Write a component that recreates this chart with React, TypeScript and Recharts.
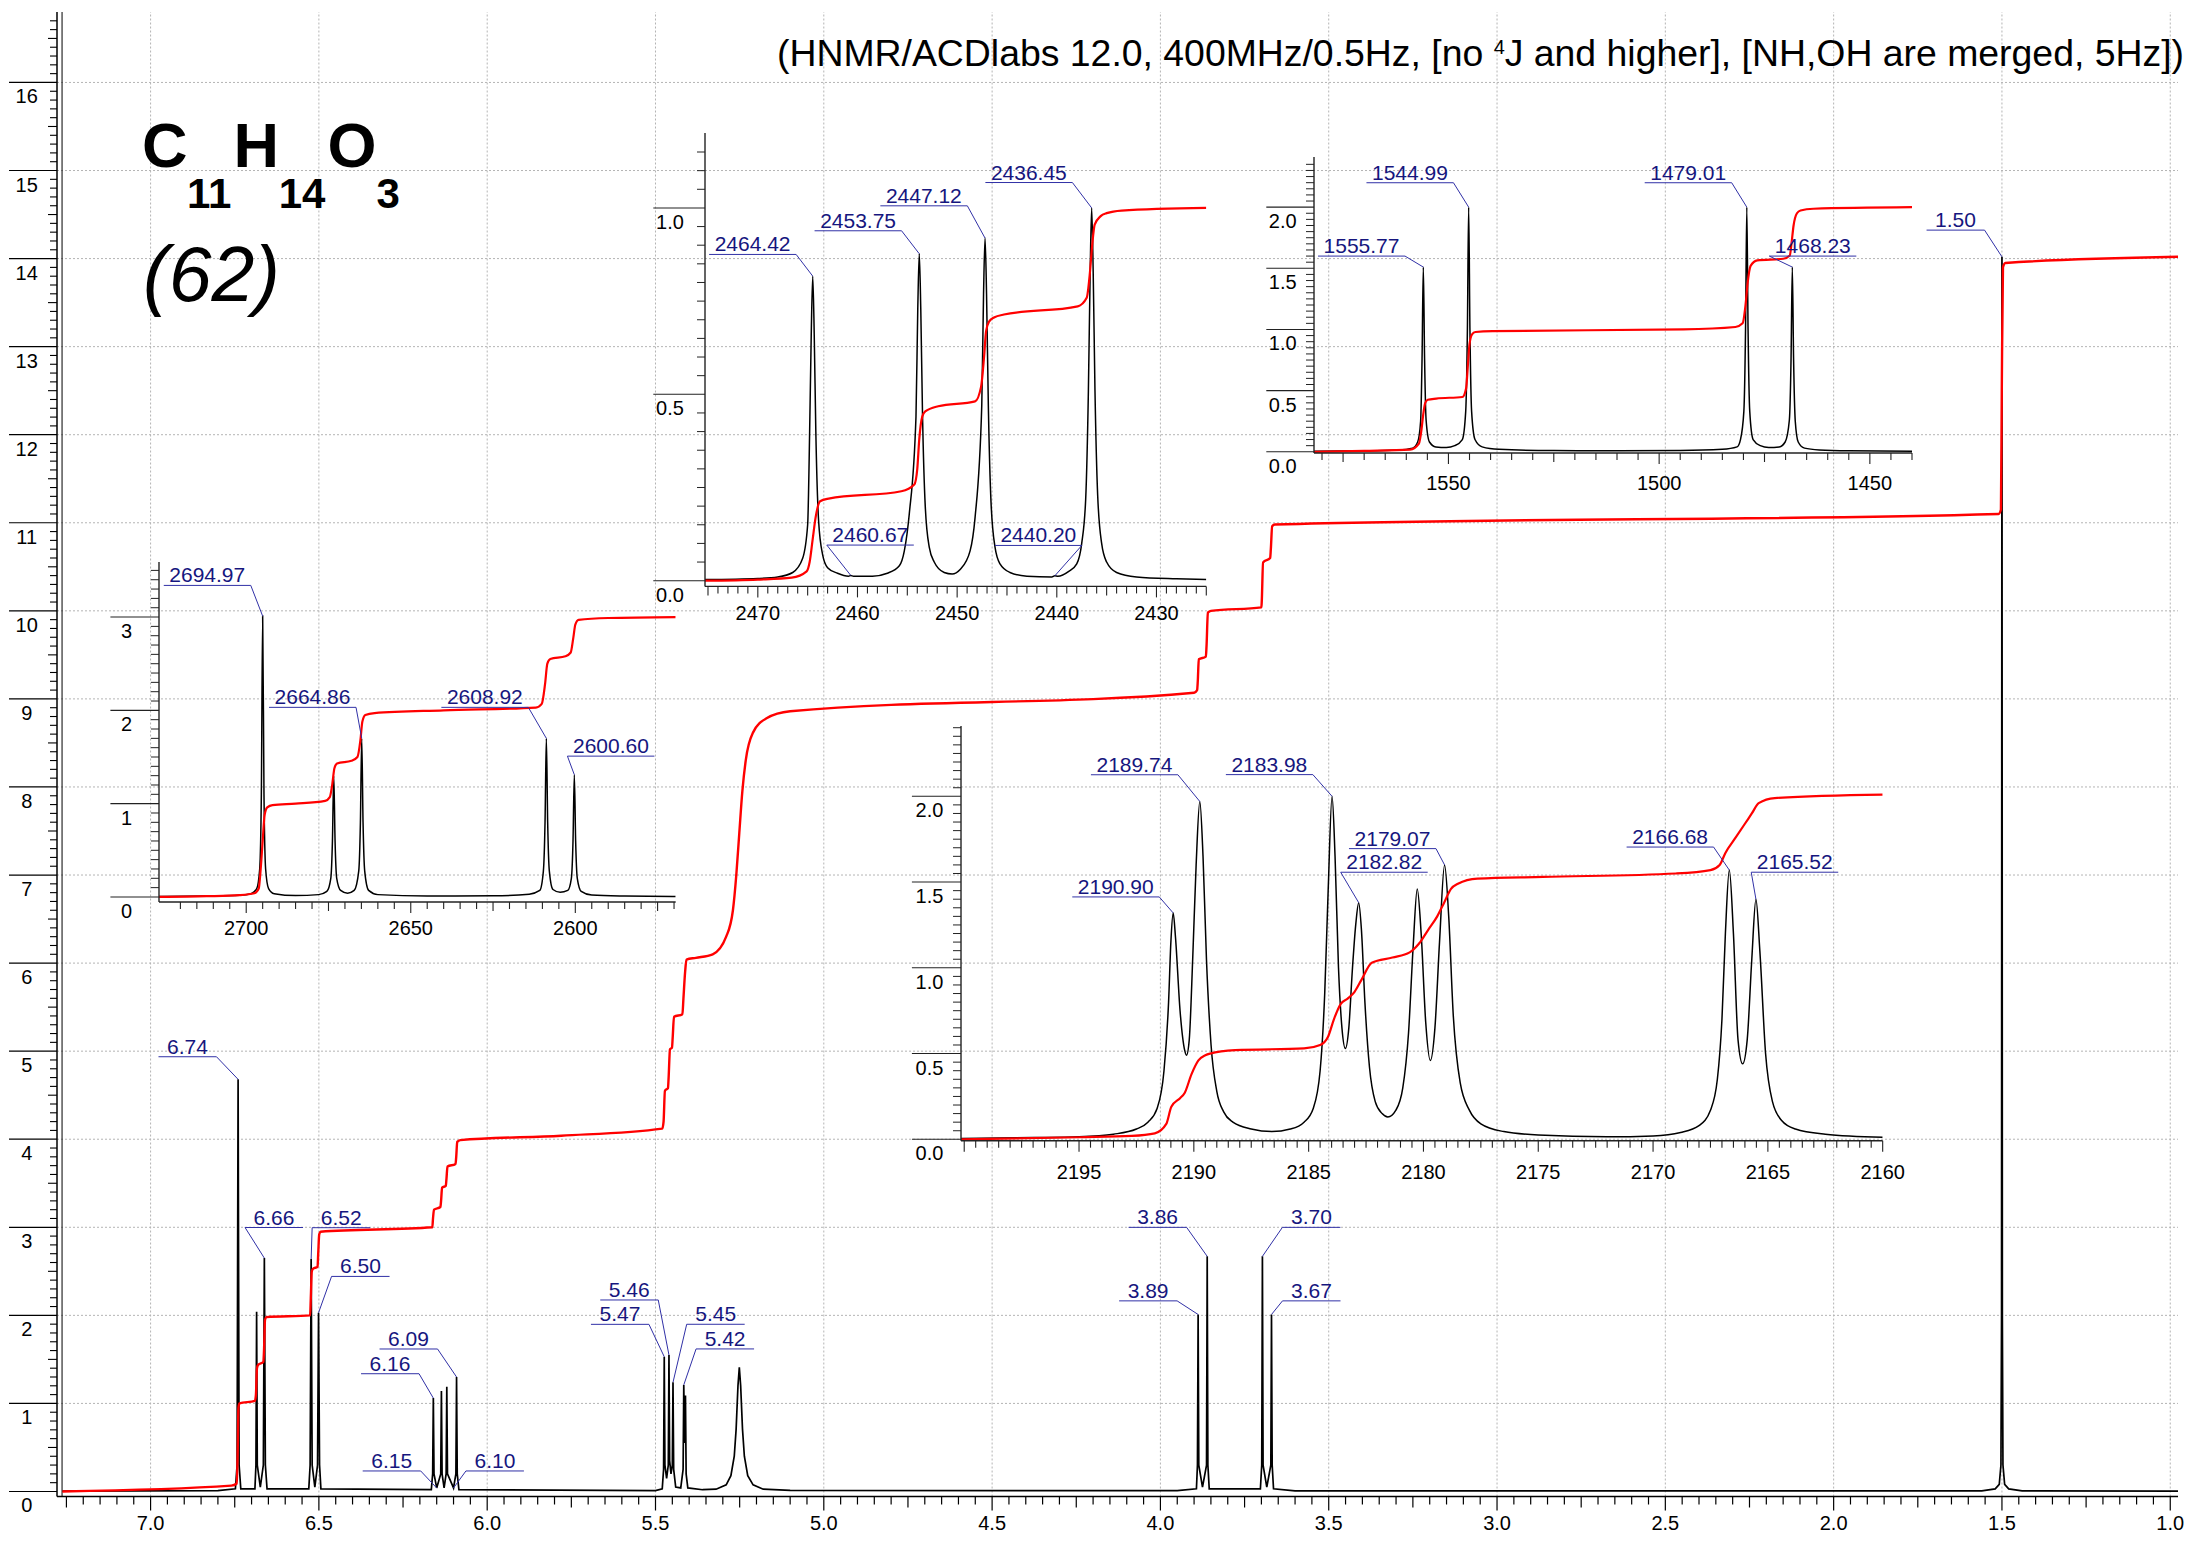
import React from 'react';
import { ComposedChart, Line, XAxis, YAxis, Scatter, ReferenceLine } from 'recharts';

type Pt = [number, number];
type Side = 'L' | 'R';
type Lay = [number, number, Side];
type PeakLabel = { text: string; pos: number; h: number };

const FONT = '"Liberation Sans", Arial, Helvetica, sans-serif';
const LABEL_TEXT = '#16167e';
const LABEL_LINE = '#3030a6';
const GRID = '#b4b4b4';

// ---------------- MAIN SPECTRUM (ppm, intensity) ----------------
const mainSpectrum: Pt[] = [
  [7.262, 0.005], [6.8, 0.01], [6.748, 0.03], [6.743, 0.3], [6.74, 4.68], [6.737, 0.3], [6.732, 0.03],
  [6.69, 0.03], [6.687, 0.3], [6.685, 2.04], [6.683, 0.3], [6.674, 0.05], [6.665, 0.3], [6.662, 2.65], [6.659, 0.3], [6.654, 0.03],
  [6.53, 0.03], [6.526, 0.3], [6.523, 2.64], [6.52, 0.3], [6.512, 0.05], [6.504, 0.3], [6.501, 2.03], [6.498, 0.3], [6.494, 0.03],
  [6.166, 0.02], [6.162, 0.2], [6.16, 1.06], [6.158, 0.2], [6.15, 0.04], [6.138, 0.2], [6.136, 1.14], [6.134, 0.2], [6.128, 0.04],
  [6.122, 0.2], [6.12, 1.19], [6.118, 0.2], [6.1, 0.04], [6.093, 0.2], [6.091, 1.3], [6.089, 0.2], [6.084, 0.02],
  [5.5, 0.01], [5.48, 0.03], [5.476, 0.25], [5.474, 1.53], [5.472, 0.3], [5.467, 0.15], [5.462, 0.3], [5.46, 1.55], [5.458, 0.35],
  [5.454, 0.2], [5.45, 0.3], [5.448, 1.24], [5.446, 0.25], [5.44, 0.05], [5.425, 0.04], [5.418, 0.25], [5.416, 1.21], [5.4135, 0.55],
  [5.411, 1.09], [5.409, 0.2], [5.404, 0.04], [5.36, 0.02],
  [5.32, 0.026], [5.29, 0.075], [5.276, 0.18], [5.266, 0.4], [5.2605, 0.705], [5.255, 1.2], [5.251, 1.41], [5.247, 1.2],
  [5.2415, 0.705], [5.236, 0.4], [5.226, 0.18], [5.21, 0.075], [5.18, 0.026], [5.1, 0.012],
  [3.95, 0.01], [3.893, 0.03], [3.89, 0.3], [3.888, 2.01], [3.886, 0.3], [3.875, 0.05], [3.863, 0.3], [3.861, 2.67], [3.859, 0.3], [3.855, 0.03],
  [3.703, 0.03], [3.699, 0.3], [3.697, 2.67], [3.695, 0.3], [3.684, 0.05], [3.672, 0.3], [3.67, 2.01], [3.668, 0.3], [3.664, 0.03],
  [3.6, 0.008], [1.56, 0.008], [1.52, 0.03], [1.508, 0.08], [1.503, 0.3], [1.5012, 2.0], [1.5, 14.02], [1.4988, 2.0], [1.497, 0.3],
  [1.492, 0.08], [1.48, 0.03], [1.44, 0.008], [0.977, 0.005],
];

const mainIntegral: Pt[] = [
  [7.262, 0.0], [6.76, 0.066], [6.744, 0.09], [6.741, 0.5], [6.739, 0.95], [6.736, 1.0], [6.69, 1.03], [6.687, 1.1], [6.684, 1.4],
  [6.68, 1.44], [6.665, 1.47], [6.663, 1.6], [6.66, 1.95], [6.656, 1.98], [6.526, 2.0], [6.524, 2.2], [6.521, 2.5], [6.517, 2.53],
  [6.504, 2.55], [6.502, 2.7], [6.499, 2.92], [6.495, 2.95], [6.163, 3.0], [6.161, 3.1], [6.158, 3.2], [6.139, 3.23], [6.137, 3.3],
  [6.134, 3.45], [6.123, 3.47], [6.121, 3.55], [6.118, 3.69], [6.094, 3.72], [6.092, 3.8], [6.089, 3.97], [6.08, 3.99],
  [5.78, 4.04], [5.48, 4.12], [5.476, 4.2], [5.472, 4.55], [5.463, 4.58], [5.461, 4.7], [5.457, 5.02], [5.451, 5.04], [5.449, 5.15],
  [5.445, 5.39], [5.42, 5.42], [5.417, 5.6], [5.412, 5.9], [5.408, 6.04], [5.38, 6.06], [5.33, 6.1], [5.29, 6.3], [5.27, 6.6],
  [5.26, 7.0], [5.251, 7.48], [5.242, 7.95], [5.232, 8.3], [5.21, 8.62], [5.17, 8.78], [5.1, 8.86], [3.9, 9.07], [3.891, 9.1],
  [3.889, 9.2], [3.886, 9.45], [3.865, 9.48], [3.863, 9.6], [3.859, 9.98], [3.85, 10.0], [3.7, 10.04], [3.699, 10.1], [3.695, 10.55],
  [3.674, 10.6], [3.672, 10.7], [3.668, 10.96], [3.66, 10.98], [1.51, 11.1], [1.503, 11.15], [1.5005, 12.5], [1.497, 13.9],
  [1.49, 13.95], [0.977, 14.02],
];

const mainLabels: PeakLabel[] = [
  { text: '6.74', pos: 6.74, h: 4.68 }, { text: '6.66', pos: 6.662, h: 2.65 }, { text: '6.52', pos: 6.523, h: 2.64 },
  { text: '6.50', pos: 6.501, h: 2.03 }, { text: '6.09', pos: 6.091, h: 1.3 }, { text: '6.16', pos: 6.16, h: 1.06 },
  { text: '6.15', pos: 6.15, h: 0.04 }, { text: '6.10', pos: 6.1, h: 0.04 }, { text: '5.46', pos: 5.46, h: 1.55 },
  { text: '5.47', pos: 5.474, h: 1.53 }, { text: '5.45', pos: 5.448, h: 1.24 }, { text: '5.42', pos: 5.416, h: 1.21 },
  { text: '3.86', pos: 3.861, h: 2.67 }, { text: '3.89', pos: 3.888, h: 2.01 }, { text: '3.70', pos: 3.697, h: 2.67 },
  { text: '3.67', pos: 3.67, h: 2.01 }, { text: '1.50', pos: 1.5, h: 14.02 },
];

// ---------------- INSET 1 (Hz) ----------------
const inset1Spectrum: Pt[] = [
  [2726.5, 0.005], [2712, 0.01], [2702, 0.018], [2698.5, 0.035], [2696.8, 0.09], [2695.9, 0.3], [2695.4, 1.1], [2695.0, 3.01],
  [2694.6, 1.1], [2694.1, 0.3], [2693.2, 0.09], [2691.5, 0.035], [2685, 0.015], [2678, 0.025], [2675.5, 0.06], [2674.3, 0.2],
  [2673.8, 0.6], [2673.4, 1.3], [2673.0, 0.6], [2672.5, 0.2], [2671.3, 0.07], [2669.2, 0.04], [2667.2, 0.07], [2665.8, 0.28],
  [2665.3, 0.8], [2664.9, 1.7], [2664.5, 0.8], [2664.0, 0.28], [2662.8, 0.07], [2660, 0.025], [2645, 0.01], [2625, 0.012],
  [2614, 0.03], [2610.8, 0.07], [2609.7, 0.28], [2609.2, 0.8], [2608.8, 1.7], [2608.4, 0.8], [2607.9, 0.28], [2606.8, 0.08],
  [2604.6, 0.05], [2602.3, 0.07], [2601.2, 0.2], [2600.7, 0.6], [2600.3, 1.31], [2599.9, 0.6], [2599.4, 0.2], [2598.2, 0.06],
  [2595, 0.02], [2585, 0.01], [2569.5, 0.005],
];
const inset1Integral: Pt[] = [
  [2726.5, 0.0], [2712, 0.008], [2702, 0.02], [2697.5, 0.04], [2696.2, 0.09], [2695.6, 0.3], [2695.0, 0.6], [2694.4, 0.88],
  [2693.6, 0.96], [2692, 0.985], [2685, 1.0], [2676, 1.03], [2674.6, 1.07], [2673.8, 1.22], [2673.2, 1.38], [2672.4, 1.43],
  [2668, 1.46], [2666.2, 1.5], [2665.3, 1.68], [2664.7, 1.88], [2663.8, 1.95], [2661, 1.97], [2640, 2.0], [2612, 2.03],
  [2610.2, 2.07], [2609.2, 2.28], [2608.5, 2.5], [2607.6, 2.55], [2603, 2.58], [2601.4, 2.62], [2600.6, 2.78], [2600.0, 2.92],
  [2599.0, 2.97], [2590, 2.99], [2569.5, 3.0],
];
const inset1Labels: PeakLabel[] = [
  { text: '2694.97', pos: 2695.0, h: 3.01 }, { text: '2664.86', pos: 2664.9, h: 1.7 },
  { text: '2608.92', pos: 2608.8, h: 1.7 }, { text: '2600.60', pos: 2600.3, h: 1.31 },
];

// ---------------- INSET 2 (Hz) ----------------
const inset2Spectrum: Pt[] = [
  [2475.3, 0.003], [2470, 0.006], [2468, 0.01], [2466.5, 0.022], [2465.5, 0.06], [2465.0, 0.15], [2464.8, 0.4], [2464.64, 0.66],
  [2464.49, 0.817], [2464.34, 0.66], [2464.18, 0.4], [2463.9, 0.16], [2463.5, 0.07], [2463.0, 0.035], [2462.0, 0.02],
  [2460.9, 0.012], [2460.67, 0.014], [2460.4, 0.012], [2458.5, 0.012], [2457.0, 0.02], [2455.8, 0.04], [2455.3, 0.08],
  [2454.8, 0.18], [2454.13, 0.44], [2453.95, 0.73], [2453.8, 0.877], [2453.65, 0.73], [2453.47, 0.44], [2453.2, 0.2],
  [2452.8, 0.09], [2452.3, 0.05], [2451.3, 0.022], [2450.5, 0.018], [2449.7, 0.03], [2448.7, 0.08], [2448.2, 0.17],
  [2447.53, 0.47], [2447.35, 0.77], [2447.2, 0.919], [2447.05, 0.77], [2446.87, 0.47], [2446.6, 0.21], [2446.2, 0.09],
  [2445.7, 0.045], [2444.7, 0.022], [2443.0, 0.012], [2440.5, 0.01], [2440.2, 0.013], [2439.9, 0.012], [2438.8, 0.025],
  [2438.0, 0.045], [2437.5, 0.1], [2437.1, 0.22], [2436.83, 0.51], [2436.65, 0.83], [2436.5, 1.0], [2436.35, 0.83],
  [2436.17, 0.51], [2435.9, 0.23], [2435.5, 0.1], [2435.0, 0.05], [2434.0, 0.022], [2432.0, 0.01], [2428.0, 0.005], [2425.0, 0.003],
];
const inset2Integral: Pt[] = [
  [2475.3, 0.0], [2470, 0.003], [2466.6, 0.008], [2465.1, 0.025], [2464.8, 0.05], [2464.5, 0.11], [2464.2, 0.17],
  [2463.75, 0.213], [2462.9, 0.22], [2455.6, 0.24], [2454.3, 0.258], [2454.0, 0.3], [2453.8, 0.38], [2453.5, 0.44],
  [2453.2, 0.454], [2451.9, 0.468], [2448.2, 0.481], [2447.6, 0.52], [2447.3, 0.6], [2447.1, 0.669], [2446.8, 0.695],
  [2446.3, 0.706], [2445.3, 0.714], [2437.9, 0.736], [2437.0, 0.759], [2436.7, 0.82], [2436.45, 0.9], [2436.2, 0.955],
  [2435.6, 0.978], [2435.0, 0.986], [2433.5, 0.993], [2425, 1.0],
];
const inset2Labels: PeakLabel[] = [
  { text: '2464.42', pos: 2464.49, h: 0.817 }, { text: '2453.75', pos: 2453.8, h: 0.877 },
  { text: '2447.12', pos: 2447.2, h: 0.919 }, { text: '2436.45', pos: 2436.5, h: 1.0 },
  { text: '2460.67', pos: 2460.67, h: 0.014 }, { text: '2440.20', pos: 2440.2, h: 0.013 },
];

// ---------------- INSET 3 (Hz) ----------------
const inset3Spectrum: Pt[] = [
  [1581.9, 0.005], [1570, 0.008], [1562, 0.015], [1558.5, 0.03], [1557.3, 0.08], [1556.6, 0.25], [1556.26, 0.76], [1555.96, 1.51],
  [1555.66, 0.76], [1555.3, 0.26], [1554.5, 0.08], [1553, 0.04], [1550.5, 0.035], [1548.5, 0.05], [1546.7, 0.1], [1545.9, 0.33],
  [1545.5, 1.0], [1545.2, 2.0], [1544.9, 1.0], [1544.5, 0.33], [1543.7, 0.1], [1542, 0.04], [1538, 0.02], [1525, 0.01],
  [1510, 0.008], [1495, 0.01], [1485, 0.02], [1481.5, 0.04], [1480.7, 0.1], [1479.9, 0.33], [1479.5, 1.0], [1479.2, 2.0],
  [1478.9, 1.0], [1478.5, 0.33], [1477.7, 0.1], [1476, 0.05], [1474, 0.035], [1471.5, 0.04], [1470.1, 0.08], [1469.1, 0.26],
  [1468.7, 0.76], [1468.4, 1.51], [1468.1, 0.76], [1467.7, 0.25], [1467, 0.08], [1465.5, 0.03], [1462, 0.015], [1455, 0.008],
  [1440, 0.005],
];
const inset3Integral: Pt[] = [
  [1581.9, 0.0], [1570, 0.008], [1559.1, 0.018], [1557.0, 0.067], [1556.4, 0.18], [1556.0, 0.3], [1555.5, 0.4], [1554.9, 0.425],
  [1552.9, 0.435], [1546.7, 0.448], [1545.8, 0.52], [1545.4, 0.7], [1545.0, 0.88], [1544.4, 0.96], [1543.6, 0.979],
  [1539.5, 0.987], [1494.2, 1.0], [1481.9, 1.02], [1480.2, 1.05], [1479.5, 1.2], [1479.0, 1.38], [1478.3, 1.52], [1476.7, 1.565],
  [1470.55, 1.578], [1469.0, 1.605], [1468.6, 1.7], [1468.1, 1.85], [1467.3, 1.95], [1466.45, 1.973], [1463.4, 1.987], [1440, 2.0],
];
const inset3Labels: PeakLabel[] = [
  { text: '1555.77', pos: 1555.96, h: 1.51 }, { text: '1544.99', pos: 1545.2, h: 2.0 },
  { text: '1479.01', pos: 1479.2, h: 2.0 }, { text: '1468.23', pos: 1468.4, h: 1.51 },
];

// ---------------- INSET 4 (Hz) ----------------
const inset4Spectrum: Pt[] = [
  [2200.14, 0.005], [2197, 0.01], [2195, 0.015], [2193.5, 0.03], [2192.5, 0.06], [2192, 0.1], [2191.6, 0.18], [2191.3, 0.4],
  [2191.1, 0.8], [2191.0, 1.15], [2190.9, 1.32], [2190.8, 1.18], [2190.6, 0.75], [2190.4, 0.52], [2190.32, 0.49], [2190.2, 0.58],
  [2190.05, 1.05], [2189.9, 1.6], [2189.74, 1.97], [2189.6, 1.65], [2189.45, 1.05], [2189.25, 0.55], [2189.0, 0.28],
  [2188.7, 0.16], [2188.3, 0.1], [2187.5, 0.06], [2186.6, 0.045], [2185.8, 0.06], [2185.2, 0.1], [2184.8, 0.18], [2184.5, 0.4],
  [2184.3, 0.85], [2184.15, 1.45], [2183.98, 2.0], [2183.85, 1.65], [2183.7, 1.0], [2183.55, 0.65], [2183.4, 0.53],
  [2183.25, 0.65], [2183.1, 0.98], [2182.95, 1.25], [2182.82, 1.38], [2182.7, 1.22], [2182.55, 0.8], [2182.35, 0.42],
  [2182.1, 0.22], [2181.8, 0.15], [2181.55, 0.13], [2181.2, 0.17], [2180.9, 0.3], [2180.65, 0.62], [2180.45, 1.12],
  [2180.27, 1.46], [2180.1, 1.2], [2179.9, 0.68], [2179.7, 0.46], [2179.5, 0.65], [2179.3, 1.15], [2179.08, 1.6],
  [2178.9, 1.3], [2178.7, 0.72], [2178.4, 0.33], [2178.0, 0.17], [2177.5, 0.09], [2176.5, 0.045], [2175, 0.025], [2172, 0.015],
  [2170, 0.02], [2168.8, 0.04], [2168, 0.08], [2167.5, 0.17], [2167.2, 0.35], [2167.0, 0.7], [2166.85, 1.2], [2166.68, 1.57],
  [2166.5, 1.2], [2166.3, 0.58], [2166.1, 0.44], [2165.9, 0.58], [2165.7, 1.05], [2165.52, 1.4], [2165.35, 1.1], [2165.1, 0.5],
  [2164.8, 0.22], [2164.4, 0.11], [2163.8, 0.06], [2162.5, 0.03], [2160, 0.012],
];
const inset4Integral: Pt[] = [
  [2200.14, 0.0], [2195, 0.012], [2192.7, 0.02], [2191.7, 0.035], [2191.2, 0.09], [2190.98, 0.19], [2190.6, 0.24], [2190.4, 0.27],
  [2190.1, 0.38], [2189.8, 0.46], [2189.5, 0.49], [2189.3, 0.5], [2188.2, 0.52], [2185.2, 0.53], [2184.5, 0.55], [2184.15, 0.6],
  [2183.9, 0.7], [2183.6, 0.79], [2183.3, 0.82], [2183.0, 0.86], [2182.7, 0.93], [2182.25, 1.03], [2181.35, 1.06], [2180.6, 1.09],
  [2180.2, 1.14], [2179.8, 1.22], [2179.4, 1.3], [2179.1, 1.38], [2178.8, 1.46], [2178.5, 1.49], [2177.65, 1.52], [2174.8, 1.53],
  [2169, 1.55], [2167.5, 1.57], [2167.1, 1.6], [2166.85, 1.67], [2166.4, 1.76], [2166.0, 1.84], [2165.7, 1.9], [2165.4, 1.96],
  [2164.7, 1.99], [2160, 2.01],
];
const inset4Labels: PeakLabel[] = [
  { text: '2190.90', pos: 2190.9, h: 1.32 }, { text: '2189.74', pos: 2189.74, h: 1.97 },
  { text: '2183.98', pos: 2183.98, h: 2.0 }, { text: '2179.07', pos: 2179.08, h: 1.6 },
  { text: '2182.82', pos: 2182.82, h: 1.38 }, { text: '2166.68', pos: 2166.68, h: 1.57 },
  { text: '2165.52', pos: 2165.52, h: 1.4 },
];

// ---------------- label layout (pixel offsets from peak point) ----------------
const mainLayout: Record<string, Lay> = {
  '6.74': [-21.6, -22.6, 'L'], '6.66': [-19.3, -30.6, 'R'], '6.52': [1, -31.3, 'R'], '6.50': [13, -36.3, 'R'],
  '6.09': [-19, -28, 'L'], '6.16': [-14.3, -24.4, 'L'], '6.15': [-16, -17, 'L'], '6.10': [12.4, -17, 'R'],
  '5.46': [-10.7, -55, 'L'], '5.47': [-15.3, -32.4, 'L'], '5.45': [13.7, -58, 'R'], '5.42': [12.3, -36, 'R'],
  '3.86': [-20.6, -29, 'L'], '3.89': [-21, -13.6, 'L'], '3.70': [20, -29, 'R'], '3.67': [11, -13.6, 'R'],
  '1.50': [-17.4, -26.7, 'L'],
};
const inset1Layout: Record<string, Lay> = {
  '2694.97': [-11.9, -30.7, 'L'], '2664.86': [-5.7, -31, 'L'], '2608.92': [-18, -31, 'L'], '2600.60': [-6.9, -18.6, 'R'],
};
const inset2Layout: Record<string, Lay> = {
  '2464.42': [-16.6, -21.7, 'L'], '2453.75': [-17.7, -23, 'L'], '2447.12': [-17.7, -32.3, 'L'],
  '2436.45': [-19.3, -25.4, 'L'], '2460.67': [-24, -30.4, 'R'], '2440.20': [27, -30.4, 'L'],
};
const inset3Layout: Record<string, Lay> = {
  '1555.77': [-18.3, -11, 'L'], '1544.99': [-15.2, -24.4, 'L'], '1479.01': [-15.1, -24.4, 'L'], '1468.23': [-23, -11, 'R'],
};
const inset4Layout: Record<string, Lay> = {
  '2190.90': [-13.9, -16, 'L'], '2189.74': [-21.9, -26.7, 'L'], '2183.98': [-19.2, -21.7, 'L'],
  '2179.07': [-8.6, -16.3, 'L'], '2182.82': [-18, -30.4, 'R'], '2166.68': [-15.7, -23, 'L'], '2165.52': [-4.7, -27, 'R'],
};

// ---------------- helpers ----------------
const range = (a: number, b: number, s: number) => {
  const out: number[] = [];
  const n = Math.round((b - a) / s);
  for (let i = 0; i <= n; i++) out.push(Math.round((a + i * s) * 1000) / 1000);
  return out;
};
const isMult = (v: number, s: number) => Math.abs(v / s - Math.round(v / s)) < 1e-6;
const toObj = (pts: Pt[]) => pts.map(([x, y]) => ({ x, y }));
const toLab = (ls: PeakLabel[]) => ls.map((l) => ({ x: l.pos, y: l.h, text: l.text }));

const makeLabelShape = (layout: Record<string, Lay>) => (props: any) => {
  const { cx, cy } = props;
  const d = props.payload ?? props;
  const lay = layout[d.text];
  if (!lay || cx == null || cy == null) return <g />;
  const [dx, dy, side] = lay;
  const ax = cx + dx;
  const ay = cy + dy;
  const w = d.text.length > 5 ? 87 : 58;
  const bx = side === 'L' ? ax - w : ax + w;
  return (
    <g>
      <line x1={cx} y1={cy} x2={ax} y2={ay} stroke={LABEL_LINE} strokeWidth={1} />
      <line x1={ax} y1={ay} x2={bx} y2={ay} stroke={LABEL_LINE} strokeWidth={1} />
      <text x={(ax + bx) / 2} y={ay - 3} textAnchor="middle" fontSize={21} fontFamily={FONT} fill={LABEL_TEXT}>
        {d.text}
      </text>
    </g>
  );
};

// ---------------- main axes ----------------
const MAIN_X_TICKS = range(1.0, 7.25, 0.05);
const MAIN_Y_TICKS = range(0, 16.7, 0.1);
const MAIN_GRID_X = range(1.0, 7.0, 0.5);
const MAIN_GRID_Y = range(1, 16, 1);

const renderMainXTick = (p: any) => {
  const { x, y, payload } = p;
  const v = payload.value as number;
  const major = isMult(v, 0.5);
  const mid = isMult(v, 0.25);
  const len = major ? 14 : mid ? 11 : 8;
  return (
    <g>
      <line x1={x} x2={x} y1={y} y2={y + len} stroke="#000" strokeWidth={1.2} />
      {major && (
        <text x={x} y={y + 33.5} textAnchor="middle" fontSize={20} fontFamily={FONT} fill="#000">
          {v.toFixed(1)}
        </text>
      )}
    </g>
  );
};
const renderMainYTick = (p: any) => {
  const { x, y, payload } = p;
  const v = payload.value as number;
  if (isMult(v, 1)) {
    return (
      <g>
        <line x1={x - 48} x2={x} y1={y} y2={y} stroke="#000" strokeWidth={1.2} />
        <text x={x - 30.3} y={y + 21} textAnchor="middle" fontSize={20} fontFamily={FONT} fill="#000">
          {v.toFixed(0)}
        </text>
      </g>
    );
  }
  const len = isMult(v, 0.5) ? 9 : 7;
  return <line x1={x - len} x2={x} y1={y} y2={y} stroke="#000" strokeWidth={1.1} />;
};

// ---------------- insets ----------------
type InsetCfg = {
  left: number; top: number; width: number; height: number;
  yW: number; xH: number; mTop: number; mRight: number;
  xDomain: [number, number]; yDomain: [number, number];
  xTicks: number[]; xLabelStep: number; xMidStep: number; xLabelDy: number; xDecimals: number; xNoLabel: number[];
  yTicks: number[]; yLabelStep: number; yDecimals: number; yLineLen: number; yLabelDx: number;
  spectrum: Pt[]; integral: Pt[]; labels: PeakLabel[]; layout: Record<string, Lay>;
};

const insets: InsetCfg[] = [
  {
    left: 107.3, top: 555.7, width: 574.7, height: 396, yW: 52, xH: 50, mTop: 6, mRight: 6,
    xDomain: [2569.5, 2726.5], yDomain: [-0.054, 3.59],
    xTicks: range(2570, 2720, 5), xLabelStep: 50, xMidStep: 25, xLabelDy: 33.5, xDecimals: 0, xNoLabel: [],
    yTicks: range(0, 3.5, 0.1), yLabelStep: 1, yDecimals: 0, yLineLen: 48.6, yLabelDx: 32.5,
    spectrum: inset1Spectrum, integral: inset1Integral, labels: inset1Labels, layout: inset1Layout,
  },
  {
    left: 649.7, top: 127.3, width: 562.3, height: 509.4, yW: 55, xH: 50, mTop: 6, mRight: 6,
    xDomain: [2425.0, 2475.3], yDomain: [-0.0153, 1.201],
    xTicks: range(2425, 2475, 1), xLabelStep: 10, xMidStep: 5, xLabelDy: 34, xDecimals: 0, xNoLabel: [],
    yTicks: range(0, 1.15, 0.05), yLabelStep: 0.5, yDecimals: 1, yLineLen: 51.7, yLabelDx: 35,
    spectrum: inset2Spectrum, integral: inset2Integral, labels: inset2Labels, layout: inset2Layout,
  },
  {
    left: 1262.2, top: 150.7, width: 656, height: 352, yW: 52, xH: 50, mTop: 6, mRight: 6,
    xDomain: [1440, 1581.9], yDomain: [-0.01, 2.41],
    xTicks: range(1440, 1580, 5), xLabelStep: 50, xMidStep: 25, xLabelDy: 37, xDecimals: 0, xNoLabel: [],
    yTicks: range(0, 2.35, 0.05), yLabelStep: 0.5, yDecimals: 1, yLineLen: 47.7, yLabelDx: 31.3,
    spectrum: inset3Spectrum, integral: inset3Integral, labels: inset3Labels, layout: inset3Layout,
  },
  {
    left: 908.9, top: 720, width: 1003.7, height: 470.7, yW: 52, xH: 50, mTop: 6, mRight: 30,
    xDomain: [2160, 2200.14], yDomain: [-0.008, 2.41],
    xTicks: range(2160, 2200, 0.5), xLabelStep: 5, xMidStep: 5, xLabelDy: 38, xDecimals: 0, xNoLabel: [2200],
    yTicks: range(0, 2.4, 0.05), yLabelStep: 0.5, yDecimals: 1, yLineLen: 49.1, yLabelDx: 31.5,
    spectrum: inset4Spectrum, integral: inset4Integral, labels: inset4Labels, layout: inset4Layout,
  },
];

const Inset = ({ cfg }: { cfg: InsetCfg }) => {
  const xTick = (p: any) => {
    const { x, y, payload } = p;
    const v = payload.value as number;
    const lab = isMult(v, cfg.xLabelStep);
    const mid = isMult(v, cfg.xMidStep);
    const len = lab ? 11 : mid ? 9 : 7;
    const showText = lab && !cfg.xNoLabel.includes(v);
    return (
      <g>
        <line x1={x} x2={x} y1={y} y2={y + len} stroke="#222" strokeWidth={1.1} />
        {showText && (
          <text x={x} y={y + cfg.xLabelDy} textAnchor="middle" fontSize={20} fontFamily={FONT} fill="#000">
            {v.toFixed(cfg.xDecimals)}
          </text>
        )}
      </g>
    );
  };
  const yTick = (p: any) => {
    const { x, y, payload } = p;
    const v = payload.value as number;
    if (isMult(v, cfg.yLabelStep)) {
      return (
        <g>
          <line x1={x - cfg.yLineLen} x2={x} y1={y} y2={y} stroke="#222" strokeWidth={1.1} />
          <text x={x - cfg.yLabelDx} y={y + 21} textAnchor="middle" fontSize={20} fontFamily={FONT} fill="#000">
            {v.toFixed(cfg.yDecimals)}
          </text>
        </g>
      );
    }
    return <line x1={x - 8} x2={x} y1={y} y2={y} stroke="#222" strokeWidth={1} />;
  };
  return (
    <div style={{ position: 'absolute', left: cfg.left, top: cfg.top }}>
      <ComposedChart
        width={cfg.width}
        height={cfg.height}
        margin={{ top: cfg.mTop, right: cfg.mRight, bottom: 0, left: 0 }}
      >
        <XAxis
          type="number" dataKey="x" domain={cfg.xDomain} reversed allowDataOverflow ticks={cfg.xTicks}
          interval={0} tickSize={0} tickMargin={0} tickLine={false} tick={xTick}
          axisLine={{ stroke: '#222', strokeWidth: 1.4 }} height={cfg.xH}
        />
        <YAxis
          type="number" domain={cfg.yDomain} allowDataOverflow ticks={cfg.yTicks} interval={0}
          tickSize={0} tickMargin={0} tickLine={false} tick={yTick}
          axisLine={{ stroke: '#222', strokeWidth: 1.4 }} width={cfg.yW}
        />
        <Line
          data={toObj(cfg.spectrum)} dataKey="y" type="monotone" stroke="#000" strokeWidth={1.5}
          dot={false} activeDot={false} isAnimationActive={false}
        />
        <Line
          data={toObj(cfg.integral)} dataKey="y" type="monotone" stroke="#ff0000" strokeWidth={2.2}
          dot={false} activeDot={false} isAnimationActive={false}
        />
        <Scatter data={toLab(cfg.labels)} dataKey="y" shape={makeLabelShape(cfg.layout)} isAnimationActive={false} />
      </ComposedChart>
    </div>
  );
};

export default function App() {
  return (
    <div style={{ position: 'absolute', left: 0, top: 0, width: 2190, height: 1543, overflow: 'hidden', background: '#fff' }}>
      <div style={{ position: 'absolute', left: 0, top: 0 }}>
        <ComposedChart width={2190} height={1543} margin={{ top: 12, right: 12, bottom: 0, left: 0 }}>
          <XAxis
            type="number" dataKey="x" domain={[0.977, 7.278]} reversed allowDataOverflow ticks={MAIN_X_TICKS}
            interval={0} tickSize={0} tickMargin={0} tickLine={false} tick={renderMainXTick}
            axisLine={{ stroke: '#000', strokeWidth: 1.5 }} height={46.5}
          />
          <YAxis
            type="number" domain={[-0.057, 16.8]} allowDataOverflow ticks={MAIN_Y_TICKS} interval={0}
            tickSize={0} tickMargin={0} tickLine={false} tick={renderMainYTick}
            axisLine={{ stroke: '#000', strokeWidth: 1.5 }} width={57}
          />
          {MAIN_GRID_X.map((v) => (
            <ReferenceLine key={'gx' + v} x={v} stroke={GRID} strokeDasharray="2 2" strokeWidth={1} />
          ))}
          {MAIN_GRID_Y.map((v) => (
            <ReferenceLine key={'gy' + v} y={v} stroke={GRID} strokeDasharray="2 2" strokeWidth={1} />
          ))}
          <ReferenceLine x={7.263} stroke="#000" strokeWidth={1} />
          <Line
            data={toObj(mainSpectrum)} dataKey="y" type="linear" stroke="#000" strokeWidth={1.7}
            dot={false} activeDot={false} isAnimationActive={false}
          />
          <Line
            data={toObj(mainIntegral)} dataKey="y" type="monotone" stroke="#ff0000" strokeWidth={2.4}
            dot={false} activeDot={false} isAnimationActive={false}
          />
          <Scatter data={toLab(mainLabels)} dataKey="y" shape={makeLabelShape(mainLayout)} isAnimationActive={false} />
        </ComposedChart>
      </div>

      <svg width={2190} height={1543} style={{ position: 'absolute', left: 0, top: 0, pointerEvents: 'none' }}>
        <text x={777} y={66} fontSize={37.5} fontFamily={FONT} fill="#000" textLength={1407} lengthAdjust="spacingAndGlyphs">
          (HNMR/ACDlabs 12.0, 400MHz/0.5Hz, [no <tspan fontSize={20} dy={-12}>4</tspan>
          <tspan dy={12}>J and higher], [NH,OH are merged, 5Hz])</tspan>
        </text>
        <g fontFamily={FONT} fontWeight="bold" fill="#000">
          <text x={142} y={167} fontSize={63}>C</text>
          <text x={187} y={208} fontSize={42}>11</text>
          <text x={233.5} y={167} fontSize={63}>H</text>
          <text x={278.7} y={208} fontSize={42}>14</text>
          <text x={327.5} y={167} fontSize={63}>O</text>
          <text x={376.5} y={208} fontSize={42}>3</text>
        </g>
        <text x={143} y={301} fontSize={77} fontStyle="italic" fontFamily={FONT} fill="#000">(62)</text>
      </svg>

      {insets.map((cfg, i) => (
        <Inset key={i} cfg={cfg} />
      ))}
    </div>
  );
}
